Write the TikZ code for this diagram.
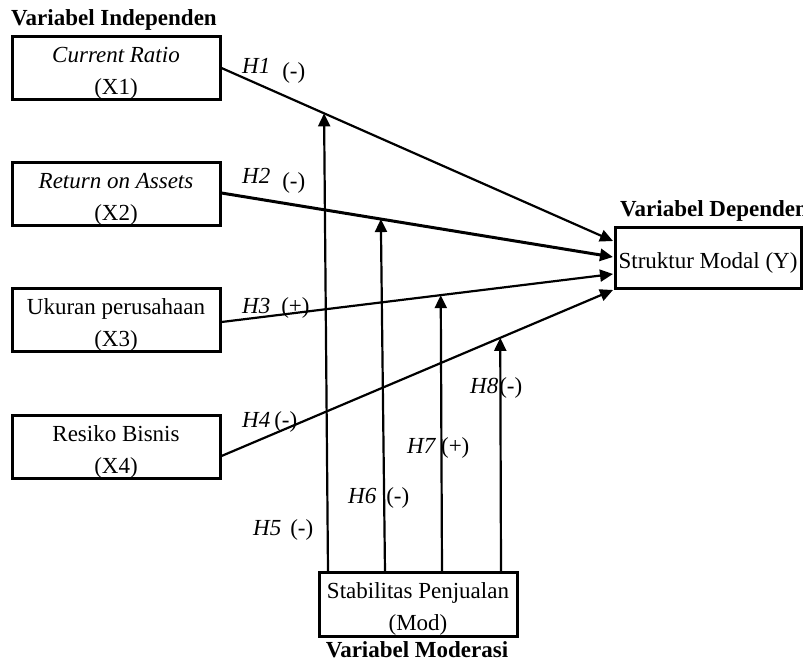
\documentclass[tikz,border=0pt]{standalone}
\usepackage{fontspec}
\setmainfont{Liberation Serif}
\usetikzlibrary{arrows.meta}

\newcommand{\topstrut}{\rule{0pt}{26pt}}

\begin{document}
\begin{tikzpicture}[x=1pt,y=-1pt,
  font=\fontsize{23}{32}\selectfont,
  varbox/.style={draw,line width=3pt,minimum width=208pt,minimum height=63pt,
    align=center,inner sep=0pt},
  title/.style={font=\fontsize{23}{26}\selectfont\bfseries,inner sep=0pt},
  hyp/.style={anchor=base west,inner sep=0pt},
  effect/.style={line width=2.2pt,-{Triangle[length=13pt,width=12pt]}}]
  \useasboundingbox (0,0) rectangle (803,662);

  % variables
  \node[varbox] (x1) at (116,68) {\topstrut\textit{Current Ratio}\\(X1)};
  \node[varbox] (x2) at (116,194) {\topstrut\textit{Return on Assets}\\(X2)};
  \node[varbox] (x3) at (116,320) {\topstrut Ukuran perusahaan\\(X3)};
  \node[varbox] (x4) at (116,447) {\topstrut Resiko Bisnis\\(X4)};
  \node[varbox,minimum width=186pt,minimum height=61pt] (y) at (708,257.5)
    {\topstrut Struktur Modal (Y)};
  \node[varbox,minimum width=198pt,minimum height=64pt] (mod) at (418,604)
    {\topstrut Stabilitas Penjualan\\(Mod)};

  % group titles
  \node[title,anchor=west] (tind) at (11,20) {Variabel Independen};
  \node[title,anchor=west] (tdep) at (620,211) {Variabel Dependen};
  \node[title,anchor=base] (tmod) at (417,657) {Variabel Moderasi};

  % direct effects
  \coordinate (e1) at (613,241);
  \coordinate (e2) at (613,257);
  \coordinate (e3) at (613,274);
  \coordinate (e4) at (613,290);
  \draw[effect] (x1.east) -- coordinate[pos=0.262] (m1) (e1);
  \draw[effect,line width=3pt] ([yshift=1pt]x2.east) -- coordinate[pos=0.407] (m2) (e2);
  \draw[effect] ([yshift=-2pt]x3.east) -- coordinate[pos=0.56] (m3) (e3);
  \draw[effect] ([yshift=-9pt]x4.east) -- coordinate[pos=0.712] (m4) (e4);

  % moderation
  \coordinate (b1) at (328,572);
  \coordinate (b2) at (385,572);
  \coordinate (b3) at (442,572);
  \coordinate (b4) at (501,572);
  \draw[effect] (b1) -- (m1);
  \draw[effect] (b2) -- (m2);
  \draw[effect] (b3) -- (m3);
  \draw[effect] (b4) -- (m4);

  % hypotheses
  \node[hyp] (h1) at (242,73) {\textit{H1}\hspace{12pt}\raisebox{-5pt}{(-)}};
  \node[hyp] (h2) at (242,183) {\textit{H2}\hspace{12pt}\raisebox{-5pt}{(-)}};
  \node[hyp] (h3) at (242,313) {\textit{H3}\hspace{11pt}(+)};
  \node[hyp] (h4) at (242,427) {\textit{H4}\hspace{4pt}(-)};
  \node[hyp] (h5) at (253,535) {\textit{H5}\hspace{9pt}(-)};
  \node[hyp] (h6) at (348,503) {\textit{H6}\hspace{10pt}(-)};
  \node[hyp] (h7) at (407,453) {\textit{H7}\hspace{5pt}(+)};
  \node[hyp] (h8) at (470,393) {\textit{H8}\hspace{1pt}(-)};
\end{tikzpicture}
\end{document}
